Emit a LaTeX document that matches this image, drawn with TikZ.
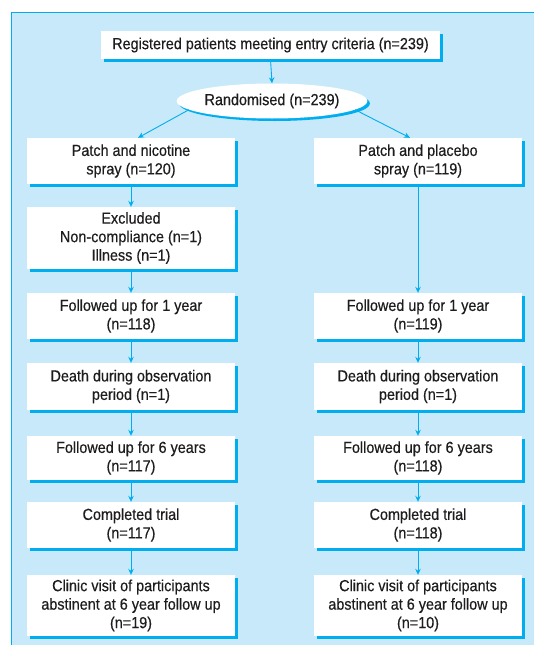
\documentclass[tikz,border=0pt]{standalone}
\usepackage{fontspec}
\setmainfont{Liberation Sans}[FakeStretch=0.9,FakeBold=0.4]
\usetikzlibrary{shapes.geometric,shadows,arrows.meta}
\definecolor{panel}{RGB}{199,233,249}
\definecolor{cyanline}{RGB}{0,174,239}
\definecolor{ink}{RGB}{30,28,28}
\begin{document}
\begin{tikzpicture}[x=1pt,y=-1pt,
  bshadow/.style={drop shadow={shadow xshift=2.5pt, shadow yshift=-2.5pt, fill=cyanline, opacity=1}},
  txt/.style={text=ink, align=center, inner sep=0pt, font=\fontsize{16}{18.5}\selectfont},
  box/.style={rectangle, fill=white, txt, bshadow, minimum width=208pt},
  arr/.style={draw=cyanline, line width=0.9pt, -{Stealth[length=6pt,width=5.5pt,inset=2pt]}}]
\useasboundingbox (0,0) rectangle (534,645);
\fill[panel] (11,12) rectangle (534,645);
\draw[cyanline, line width=1pt] (11,645) -- (11,12) -- (534,12);

\node[rectangle, fill=white, txt, bshadow, minimum width=339pt, minimum height=28pt] (top) at (270.5,45) {Registered patients meeting entry criteria (n=239)};
\node[ellipse, fill=white, txt, bshadow, minimum width=186pt, minimum height=35pt] (ell) at (272,101) {Randomised (n=239)};

\node[box, minimum height=46pt] (L1) at (131,161) {Patch and nicotine\\spray (n=120)};
\node[box, minimum height=62pt] (L2) at (131,238) {Excluded\\Non-compliance (n=1)\\Illness (n=1)};
\node[box, minimum height=46pt] (L3) at (131,316) {Followed up for 1 year\\(n=118)};
\node[box, minimum height=47pt] (L4) at (131,386.5) {Death during observation\\period (n=1)};
\node[box, minimum height=44pt] (L5) at (131,458) {Followed up for 6 years\\(n=117)};
\node[box, minimum height=46pt] (L6) at (131,525) {Completed trial\\(n=117)};
\node[box, minimum height=61pt] (L7) at (131,605.5) {Clinic visit of participants\\abstinent at 6 year follow up\\(n=19)};

\node[box, minimum height=46pt] (R1) at (418,161) {Patch and placebo\\spray (n=119)};
\node[box, minimum height=46pt] (R3) at (418,316) {Followed up for 1 year\\(n=119)};
\node[box, minimum height=47pt] (R4) at (418,386.5) {Death during observation\\period (n=1)};
\node[box, minimum height=44pt] (R5) at (418,458) {Followed up for 6 years\\(n=118)};
\node[box, minimum height=46pt] (R6) at (418,525) {Completed trial\\(n=118)};
\node[box, minimum height=61pt] (R7) at (418,605.5) {Clinic visit of participants\\abstinent at 6 year follow up\\(n=10)};

\draw[arr] (top.south) -- (ell.north);
\draw[arr] (ell.186) -- ([xshift=7pt]L1.north);
\draw[arr] (ell.-6) -- ([xshift=-8pt]R1.north);
\draw[arr] (L1.south) -- (L2.north);
\draw[arr] (L2.south) -- (L3.north);
\draw[arr] (L3.south) -- (L4.north);
\draw[arr] (L4.south) -- (L5.north);
\draw[arr] (L5.south) -- (L6.north);
\draw[arr] (L6.south) -- (L7.north);
\draw[arr] (R1.south) -- (R3.north);
\draw[arr] (R3.south) -- (R4.north);
\draw[arr] (R4.south) -- (R5.north);
\draw[arr] (R5.south) -- (R6.north);
\draw[arr] (R6.south) -- (R7.north);
\end{tikzpicture}
\end{document}
